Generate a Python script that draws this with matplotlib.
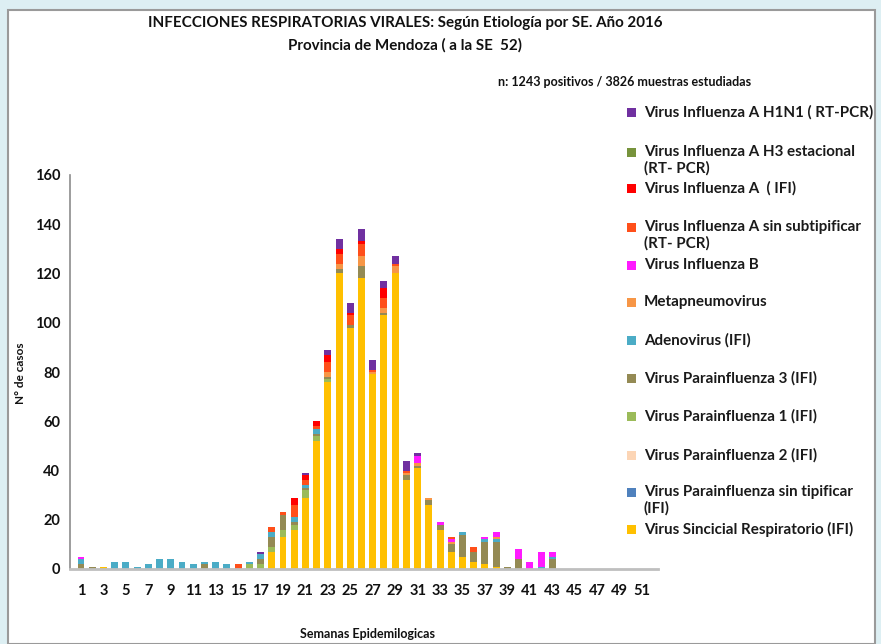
import matplotlib
matplotlib.use("Agg")
import matplotlib.pyplot as plt
from matplotlib.patches import Rectangle
import numpy as np

plt.rcParams['font.family'] = ['Lato', 'DejaVu Sans']

weeks = list(range(1, 53))

def series(d):
    v = [0] * 52
    for w, val in d.items():
        v[w - 1] = val
    return v

vsr = series({3: 1, 18: 7, 19: 13, 20: 16, 21: 29, 22: 52, 23: 76, 24: 120, 25: 98,
              26: 118, 27: 79, 28: 103, 29: 120, 30: 36, 31: 41, 32: 26, 33: 16,
              34: 7, 35: 5, 36: 3, 37: 2, 38: 1})
para_sin_tip = series({})
para2 = series({})
para1 = series({16: 2, 17: 2, 18: 2, 19: 3, 20: 2, 21: 3, 22: 2, 23: 1})
para3 = series({1: 2, 2: 1, 12: 2, 17: 2, 18: 4, 19: 6, 20: 1, 21: 1, 22: 1, 23: 1,
                24: 2, 25: 1, 26: 5, 28: 1, 30: 2, 31: 1, 32: 2, 33: 2, 34: 3, 35: 9,
                36: 4, 37: 9, 38: 10, 39: 1, 40: 4, 43: 4})
adeno = series({1: 2, 4: 3, 5: 3, 6: 1, 7: 2, 8: 4, 9: 4, 10: 3, 11: 2, 12: 1, 13: 3,
                14: 2, 16: 1, 17: 2, 18: 2, 20: 2, 21: 1, 22: 2, 35: 1, 37: 1, 38: 1,
                42: 1, 43: 1})
metapneumo = series({23: 2, 24: 2, 26: 4, 27: 1, 28: 2, 29: 3, 30: 1, 31: 1, 32: 1,
                     34: 1, 38: 1})
flu_b = series({1: 1, 31: 3, 33: 1, 34: 1, 37: 1, 38: 2, 40: 4, 41: 3, 42: 6, 43: 2})
flu_a_sin_subtip = series({15: 2, 18: 2, 19: 1, 20: 5, 21: 2, 22: 1, 23: 4, 24: 4,
                           25: 4, 26: 5, 27: 1, 28: 4, 29: 1, 30: 1, 34: 1, 36: 2})
flu_a_ifi = series({20: 3, 21: 2, 22: 2, 23: 3, 24: 2, 25: 1, 26: 1, 28: 4})
h3 = series({})
h1n1 = series({17: 1, 21: 1, 23: 2, 24: 4, 25: 4, 26: 5, 27: 4, 28: 3, 29: 3, 30: 4,
               31: 1})

# bottom -> top stacking order
stack = [
    ("Virus Sincicial Respiratorio (IFI)", vsr, "#FFC000"),
    ("Virus Parainfluenza sin tipificar\n(IFI)", para_sin_tip, "#4F81BD"),
    ("Virus Parainfluenza 2 (IFI)", para2, "#FCD5B5"),
    ("Virus Parainfluenza 1 (IFI)", para1, "#9BBB59"),
    ("Virus Parainfluenza 3 (IFI)", para3, "#948A54"),
    ("Adenovirus (IFI)", adeno, "#4BACC6"),
    ("Metapneumovirus", metapneumo, "#F79646"),
    ("Virus Influenza B", flu_b, "#FF1AFF"),
    ("Virus Influenza A sin subtipificar\n(RT- PCR)", flu_a_sin_subtip, "#FF4F1A"),
    ("Virus Influenza A  ( IFI)", flu_a_ifi, "#FF0000"),
    ("Virus Influenza A H3 estacional\n(RT- PCR)", h3, "#77933C"),
    ("Virus Influenza A H1N1 ( RT-PCR)", h1n1, "#7030A0"),
]

W, H = 881, 644
fig = plt.figure(figsize=(W / 100, H / 100), dpi=100)
fig.patch.set_facecolor("#DDEFF3")
fig.patches.append(Rectangle((8 / W, 0), (875 - 8) / W, (H - 10) / H,
                             transform=fig.transFigure, facecolor="white",
                             edgecolor="#9A9A9A", linewidth=1.5, zorder=-5))

ax = fig.add_axes([70 / W, (H - 569) / H, (658 - 70) / W, (569 - 175) / H])
ax.set_zorder(2)
ax.set_facecolor("none")
bottom = np.zeros(52)
for name, vals, col in stack:
    v = np.array(vals, dtype=float)
    ax.bar(weeks, v, bottom=bottom, width=0.62, color=col, linewidth=0, zorder=2)
    bottom += v

ax.set_xlim(0.02, 52.42)
ax.set_ylim(0, 160)
ax.set_yticks(range(0, 161, 20))
ax.set_xticks(range(1, 52, 2))
ax.tick_params(axis="both", length=0, labelsize=10.5, labelcolor="#111111")
ax.tick_params(axis="x", pad=11)
ax.tick_params(axis="y", pad=7)
for lbl in ax.get_xticklabels() + ax.get_yticklabels():
    lbl.set_fontweight("bold")
for s in ["top", "right"]:
    ax.spines[s].set_visible(False)
ax.spines["left"].set_color("#8C8C8C")
ax.spines["left"].set_linewidth(1.2)
ax.spines["bottom"].set_color("#BFBFBF")
ax.spines["bottom"].set_linewidth(2)

fig.text(405 / W, 1 - 23 / H,
         "INFECCIONES RESPIRATORIAS VIRALES: Según Etiología por SE. Año 2016",
         ha="center", va="center", fontsize=10.9, fontweight="bold", color="#111111")
fig.text(405 / W, 1 - 45 / H, "Provincia de Mendoza ( a la SE  52)",
         ha="center", va="center", fontsize=10.9, fontweight="bold", color="#111111")
fig.text(625 / W, 1 - 82 / H, "n: 1243 positivos / 3826 muestras estudiadas",
         ha="center", va="center", fontsize=9, fontweight="bold", color="#111111")
fig.text(20 / W, 1 - 373 / H, "N° de casos", rotation=90, ha="center", va="center",
         fontsize=8.5, fontweight="bold", color="#111111")
fig.text(368 / W, 1 - 634 / H, "Semanas Epidemilogicas", ha="center", va="center",
         fontsize=9, fontweight="bold", color="#111111")

# legend (manual, reversed order)
leg_y = [113, 153, 189, 228, 266, 303, 341, 379, 417, 456, 493, 530]
for (name, vals, col), y in zip(reversed(stack), leg_y):
    fig.patches.append(Rectangle((627 / W, 1 - (y + 4) / H), 9 / W, 9 / H,
                                 transform=fig.transFigure, facecolor=col,
                                 edgecolor="none"))
    fig.text(644 / W, 1 - (y - 8) / H, name, ha="left", va="top", fontsize=10.9,
             fontweight="bold", color="#1A1A1A", linespacing=1.2)

fig.savefig("out.png", dpi=100, facecolor=fig.get_facecolor())
